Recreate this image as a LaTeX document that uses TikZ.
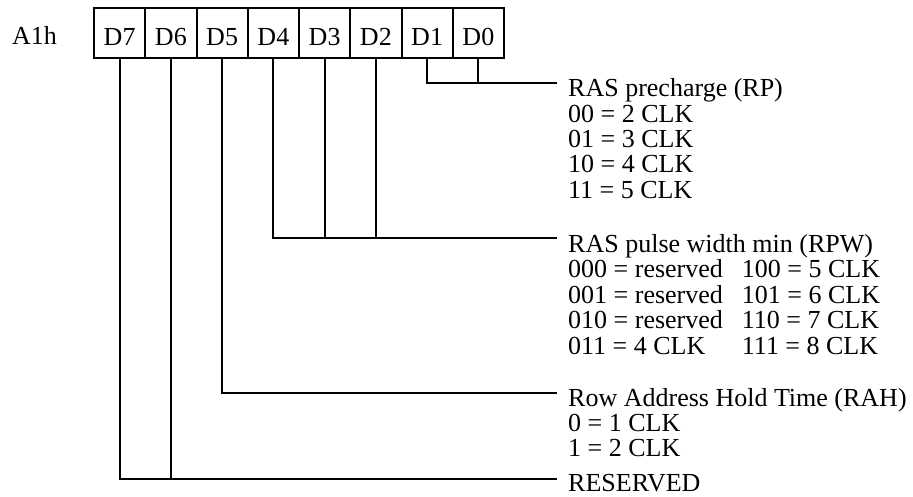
\documentclass[tikz,border=0pt]{standalone}
\usepackage{fontspec}
\setmainfont{Liberation Serif}
\usetikzlibrary{positioning, calc}

\begin{document}
\begin{tikzpicture}[
  x=1pt, y=-1pt,
  font=\fontsize{26}{25.3}\selectfont,
  bitcell/.style={draw, line width=2pt, minimum width=51.25pt, minimum height=50pt,
                  anchor=north west, inner sep=0pt, text height=26pt, text depth=0pt},
  wire/.style={line width=2pt},
  lbl/.style={anchor=base west, inner sep=0pt},
]
\useasboundingbox (0,0) rectangle (913,497);
\node[lbl] (reg) at (12,45) {A1h};
\foreach \b [count=\i from 0] in {7,6,5,4,3,2,1,0}
  \node[bitcell] (d\b) at ({93+\i*51.25},7) {D\b};
% line ends
\coordinate (rp)  at (557,83);
\coordinate (rpw) at (557,238);
\coordinate (rah) at (557,393);
\coordinate (rsv) at (557,479);
% texts
\node[lbl] (rptxt) at (568,97) {\begin{tabular}[t]{@{}l@{}}
  RAS precharge (RP)\\00 = 2 CLK\\01 = 3 CLK\\10 = 4 CLK\\11 = 5 CLK
\end{tabular}};
\node[lbl] (rpwtxt) at (568,252) {\begin{tabular}[t]{@{}l@{\hspace{19pt}}l@{}}
  \multicolumn{2}{@{}l@{}}{RAS pulse width min (RPW)}\\
  000 = reserved & 100 = 5 CLK\\
  001 = reserved & 101 = 6 CLK\\
  010 = reserved & 110 = 7 CLK\\
  011 = 4 CLK    & 111 = 8 CLK
\end{tabular}};
\node[lbl] (rahtxt) at (568,406) {\begin{tabular}[t]{@{}l@{}}
  Row Address Hold Time (RAH)\\0 = 1 CLK\\1 = 2 CLK
\end{tabular}};
\node[lbl] (rsvtxt) at (568,491) {RESERVED};
% connectors
\draw[wire] (d1.south) |- (rp);
\draw[wire] (d0.south) -- (d0.south |- rp);
\draw[wire] (d4.south) |- (rpw);
\foreach \b in {3,2}
  \draw[wire] (d\b.south) -- (d\b.south |- rpw);
\draw[wire] (d5.south) |- (rah);
\draw[wire] (d7.south) |- (rsv);
\draw[wire] (d6.south) -- (d6.south |- rsv);
\end{tikzpicture}
\end{document}
